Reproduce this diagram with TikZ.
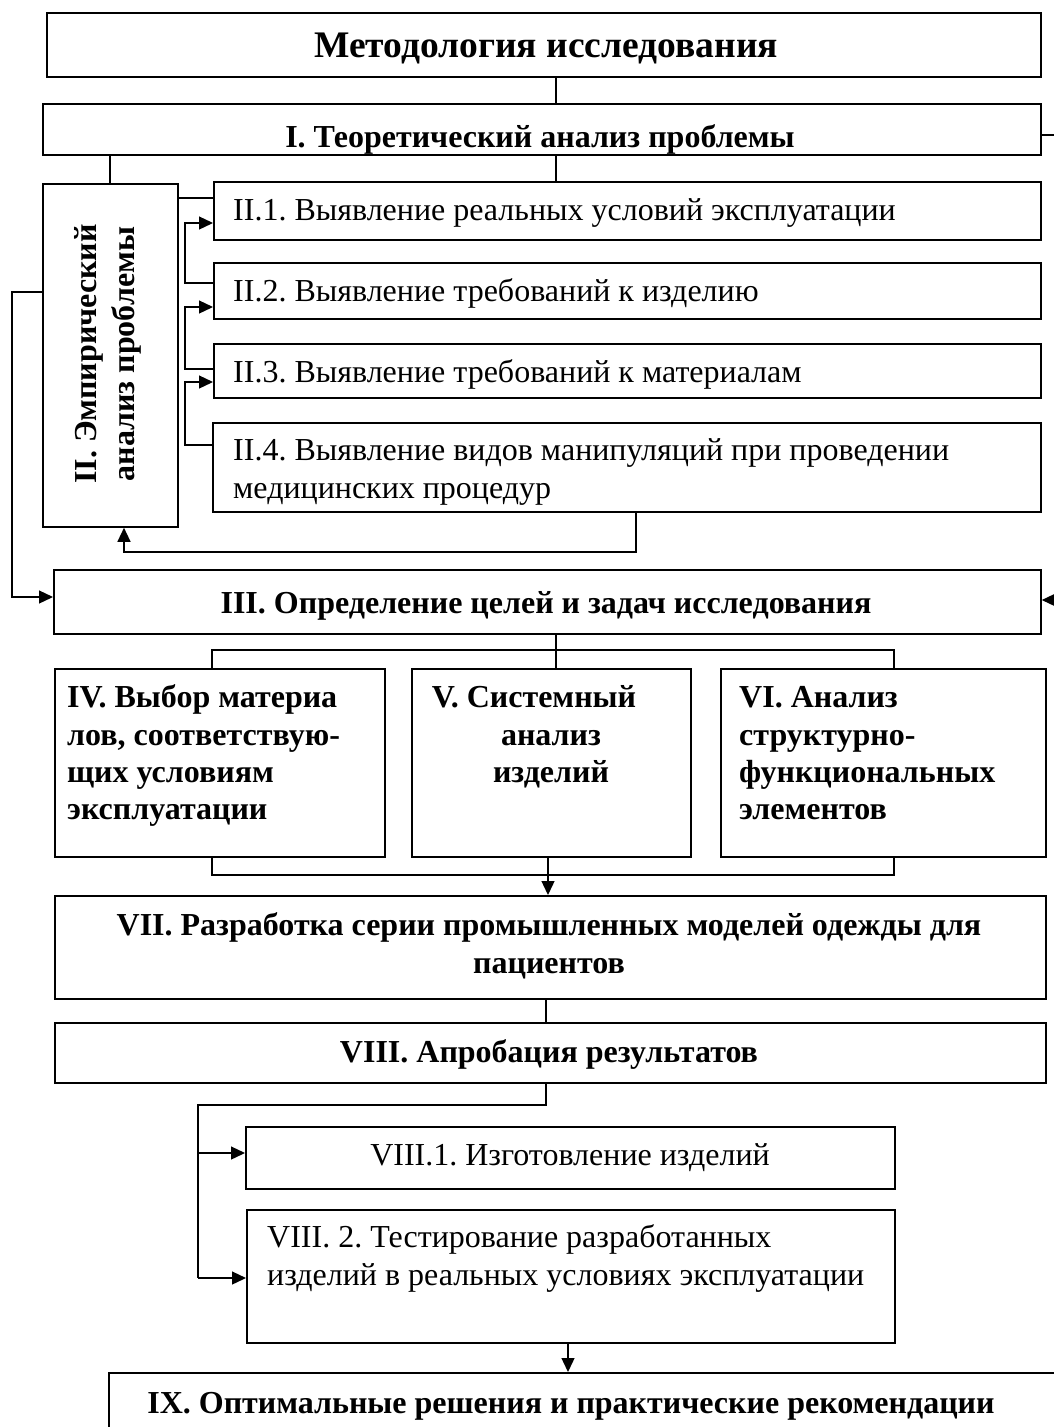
\documentclass[tikz,border=0pt]{standalone}
\usepackage{fontspec}
\setmainfont{Liberation Serif}
\usetikzlibrary{arrows.meta}
\begin{document}
\frenchspacing
\begin{tikzpicture}[x=1pt,y=-1pt,
  bx/.style={draw, line width=1.8pt, inner sep=0pt, anchor=north west},
  ln/.style={line width=1.3pt},
  arr/.style={line width=1.3pt, -{Triangle[length=14pt,width=13pt]}},
  tt/.style={inner sep=0pt, font=\fontsize{37.5}{42}\selectfont\bfseries},
  tb/.style={inner sep=0pt, font=\fontsize{32}{38}\selectfont\bfseries},
  tr/.style={inner sep=0pt, font=\fontsize{32}{38}\selectfont},
]
\useasboundingbox (0,0) rectangle (1054,1427);
\fill[white] (0,0) rectangle (1054,1427);
\clip (0,0) rectangle (1054,1427);

% boxes
\node[bx, minimum width=994pt, minimum height=64pt] (b0) at (46,12) {};
\node[bx, minimum width=998pt, minimum height=51pt] (bI) at (42,103) {};
\node[bx, minimum width=135pt, minimum height=343pt] (bII) at (42,183) {};
\node[bx, minimum width=827pt, minimum height=58pt] (b21) at (213,181) {};
\node[bx, minimum width=827pt, minimum height=56pt] (b22) at (213,262) {};
\node[bx, minimum width=827pt, minimum height=54pt] (b23) at (213,343) {};
\node[bx, minimum width=828pt, minimum height=89pt] (b24) at (212,422) {};
\node[bx, minimum width=987pt, minimum height=64pt] (b3) at (53,569) {};
\node[bx, minimum width=330pt, minimum height=188pt] (b4) at (54,668) {};
\node[bx, minimum width=279pt, minimum height=188pt] (b5) at (411,668) {};
\node[bx, minimum width=325pt, minimum height=188pt] (b6) at (720,668) {};
\node[bx, minimum width=991pt, minimum height=103pt] (b7) at (54,895) {};
\node[bx, minimum width=991pt, minimum height=60pt] (b8) at (54,1022) {};
\node[bx, minimum width=649pt, minimum height=62pt] (b81) at (245,1126) {};
\node[bx, minimum width=648pt, minimum height=133pt] (b82) at (246,1209) {};
\node[bx, minimum width=1000pt, minimum height=80pt] (b9) at (108,1372) {};

% texts
\node[tt, anchor=base] (t0) at (546,57) {Методология исследования};
\node[tb, anchor=base] (tI) at (540,147) {I. Теоретический анализ проблемы};
\node[tb, rotate=90, align=center] (tII) at (108,354) {II. Эмпирический\\анализ проблемы};
\node[tr, anchor=base west] (t21) at (233,220) {II.1. Выявление реальных условий эксплуатации};
\node[tr, anchor=base west] (t22) at (233,301) {II.2. Выявление требований к изделию};
\node[tr, anchor=base west] (t23) at (233,382) {II.3. Выявление требований к материалам};
\node[tr, anchor=base west] (t24a) at (233,460) {II.4. Выявление видов манипуляций при проведении};
\node[tr, anchor=base west] (t24b) at (233,498) {медицинских процедур};
\node[tb, anchor=base] (t3) at (546,613) {III. Определение целей и задач исследования};
\node[tb, anchor=base west] (t4a) at (67,707) {IV. Выбор материа};
\node[tb, anchor=base west] (t4b) at (67,745) {лов, соответствую-};
\node[tb, anchor=base west] (t4c) at (67,782) {щих условиям};
\node[tb, anchor=base west] (t4d) at (67,819) {эксплуатации};
\node[tb, anchor=base] (t5a) at (534,707) {V. Системный};
\node[tb, anchor=base] (t5b) at (551,745) {анализ};
\node[tb, anchor=base] (t5c) at (551,782) {изделий};
\node[tb, anchor=base west] (t6a) at (739,707) {VI. Анализ};
\node[tb, anchor=base west] (t6b) at (739,745) {структурно-};
\node[tb, anchor=base west] (t6c) at (739,782) {функциональных};
\node[tb, anchor=base west] (t6d) at (739,819) {элементов};
\node[tb, anchor=base] (t7a) at (549,935) {VII. Разработка серии промышленных моделей одежды для};
\node[tb, anchor=base] (t7b) at (549,973) {пациентов};
\node[tb, anchor=base] (t8) at (549,1062) {VIII. Апробация результатов};
\node[tr, anchor=base] (t81) at (570,1165) {VIII.1. Изготовление изделий};
\node[tr, anchor=base west] (t82a) at (267,1247) {VIII. 2. Тестирование разработанных};
\node[tr, anchor=base west] (t82b) at (267,1285) {изделий в реальных условиях эксплуатации};
\node[tb, anchor=base] (t9) at (571,1413) {IX. Оптимальные решения и практические рекомендации};

% helper coordinates
\coordinate (X12) at (12,0);
\coordinate (X110) at (110,0);
\coordinate (X124) at (124,0);
\coordinate (X185) at (185,0);
\coordinate (X198) at (198,0);
\coordinate (X212) at (212,0);
\coordinate (X546) at (546,0);
\coordinate (X548) at (548,0);
\coordinate (X556) at (556,0);
\coordinate (X568) at (568,0);
\coordinate (X636) at (636,0);
\coordinate (X894) at (894,0);
\coordinate (X1060) at (1062,0);
\coordinate (Y135) at (0,135);
\coordinate (Y198) at (0,198);
\coordinate (Y223) at (0,223);
\coordinate (Y283) at (0,283);
\coordinate (Y292) at (0,292);
\coordinate (Y307) at (0,307);
\coordinate (Y369) at (0,369);
\coordinate (Y382) at (0,382);
\coordinate (Y445) at (0,445);
\coordinate (Y552) at (0,552);
\coordinate (Y597) at (0,597);
\coordinate (Y600) at (0,600);
\coordinate (Y650) at (0,650);
\coordinate (Y875) at (0,875);
\coordinate (Y1105) at (0,1105);
\coordinate (Y1153) at (0,1153);
\coordinate (Y1278) at (0,1278);

% connectors
\draw[ln] (b0.south -| X556) -- (bI.north -| X556);
\draw[ln] (bI.south -| X110) -- (bII.north -| X110);
\draw[ln] (bI.south -| X556) -- (b21.north -| X556);
\draw[ln] (bII.east |- Y198) -- (b21.west |- Y198);
\draw[arr] (b22.west |- Y283) -| (X185 |- Y223) -- (b21.west |- Y223);
\draw[arr] (b23.west |- Y369) -| (X185 |- Y307) -- (b22.west |- Y307);
\draw[arr] (b24.west |- Y445) -| (X185 |- Y382) -- (b23.west |- Y382);
\draw[arr] (b24.south -| X636) |- (X124 |- Y552) -- (bII.south -| X124);
\draw[arr] (bII.west |- Y292) -| (X12 |- Y597) -- (b3.west |- Y597);
\draw[arr] (bI.east |- Y135) -| (X1060 |- Y600) -- (b3.east |- Y600);
\draw[ln] (b3.south -| X556) -- (b5.north -| X556);
\draw[ln] (b4.north -| X212) |- (X894 |- Y650) -- (b6.north -| X894);
\draw[ln] (b4.south -| X212) |- (X894 |- Y875) -- (b6.south -| X894);
\draw[arr] (b5.south -| X548) -- (b7.north -| X548);
\draw[ln] (b7.south -| X546) -- (b8.north -| X546);
\draw[ln] (b8.south -| X546) |- (X198 |- Y1105) -- (X198 |- Y1278);
\draw[arr] (X198 |- Y1153) -- (b81.west |- Y1153);
\draw[arr] (X198 |- Y1278) -- (b82.west |- Y1278);
\draw[arr] (b82.south -| X568) -- (b9.north -| X568);
\end{tikzpicture}
\end{document}
